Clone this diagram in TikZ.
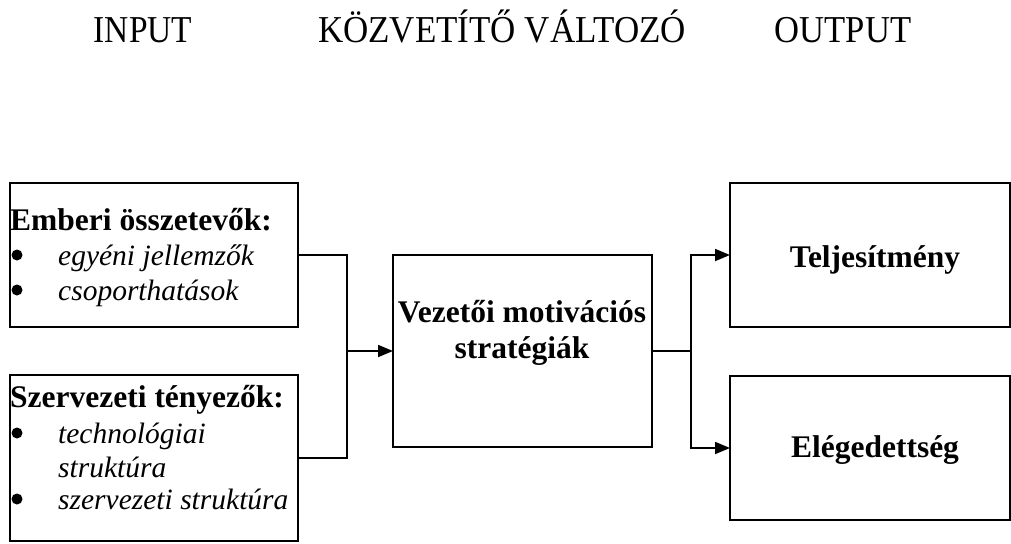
\documentclass[tikz,border=0pt]{standalone}
\usepackage{fontspec}
\setmainfont{Liberation Serif}
\usetikzlibrary{arrows.meta}
\tikzset{
  box/.style={draw, line width=1.8pt, inner sep=0pt, outer sep=0pt, rectangle},
  conn/.style={line width=1.8pt},
  arr/.style={line width=1.8pt, -{Triangle[length=15pt,width=12pt]}},
  title/.style={anchor=base, inner sep=0pt, font=\fontsize{38}{40}\selectfont},
  bold/.style={anchor=base west, inner sep=0pt, font=\fontsize{31.5}{36}\selectfont\bfseries},
  boldc/.style={anchor=base, inner sep=0pt, font=\fontsize{31.5}{36}\selectfont\bfseries},
  ital/.style={anchor=base west, inner sep=0pt, font=\fontsize{29.5}{34}\selectfont\itshape},
  bul/.style={circle, fill=black, inner sep=0pt, minimum size=11pt},
}
\begin{document}
\begin{tikzpicture}[x=1pt,y=-1pt]
\useasboundingbox (0,0) rectangle (1011,543);
\clip (0,0) rectangle (1011,543);

% titles
\node[title] (tin) at (143,42) {\scalebox{0.88}[1]{INPUT}};
\node[title] (tmid) at (502,42) {\scalebox{0.92}[1]{KÖZVETÍTŐ VÁLTOZÓ}};
\node[title] (tout) at (843,42) {\scalebox{0.91}[1]{OUTPUT}};

% boxes
\node[box, minimum width=288pt, minimum height=144pt] (box1) at (154,255) {};
\node[box, minimum width=288pt, minimum height=166pt] (box2) at (154,458) {};
\node[box, minimum width=259pt, minimum height=192pt] (mid) at (522.5,351) {};
\node[box, minimum width=280pt, minimum height=144pt] (out1) at (870,255) {};
\node[box, minimum width=280pt, minimum height=144pt] (out2) at (870,448) {};

% box1 text
\node[bold] (h1) at (10,230) {Emberi összetevők:};
\node[bul] (b11) at (17,255) {};
\node[ital] (i11) at (58,265) {egyéni jellemzők};
\node[bul] (b12) at (17,290) {};
\node[ital] (i12) at (58,300) {csoporthatások};

% box2 text
\node[bold] (h2) at (10,407) {Szervezeti tényezők:};
\node[bul] (b21) at (17,433) {};
\node[ital] (i21) at (58,443) {technológiai};
\node[ital] (i22) at (58,477) {struktúra};
\node[bul] (b22) at (17,499) {};
\node[ital] (i23) at (58,509) {szervezeti struktúra};

% middle text
\node[boldc] (m1) at (522,322) {Vezetői motivációs};
\node[boldc] (m2) at (522,358) {stratégiák};

% output text
\node[boldc] (o1) at (875,267) {Teljesítmény};
\node[boldc] (o2) at (875,457) {Elégedettség};

% connectors
\coordinate (j1) at (347,351);
\coordinate (j2) at (691,351);
\draw[conn] (box1.east) -| (j1);
\draw[conn] (box2.east) -| (j1);
\draw[arr] (j1) -- (mid.west);
\draw[conn] (mid.east) -- (j2);
\draw[arr] (j2) |- (out1.west);
\draw[arr] (j2) |- (out2.west);
\end{tikzpicture}
\end{document}
